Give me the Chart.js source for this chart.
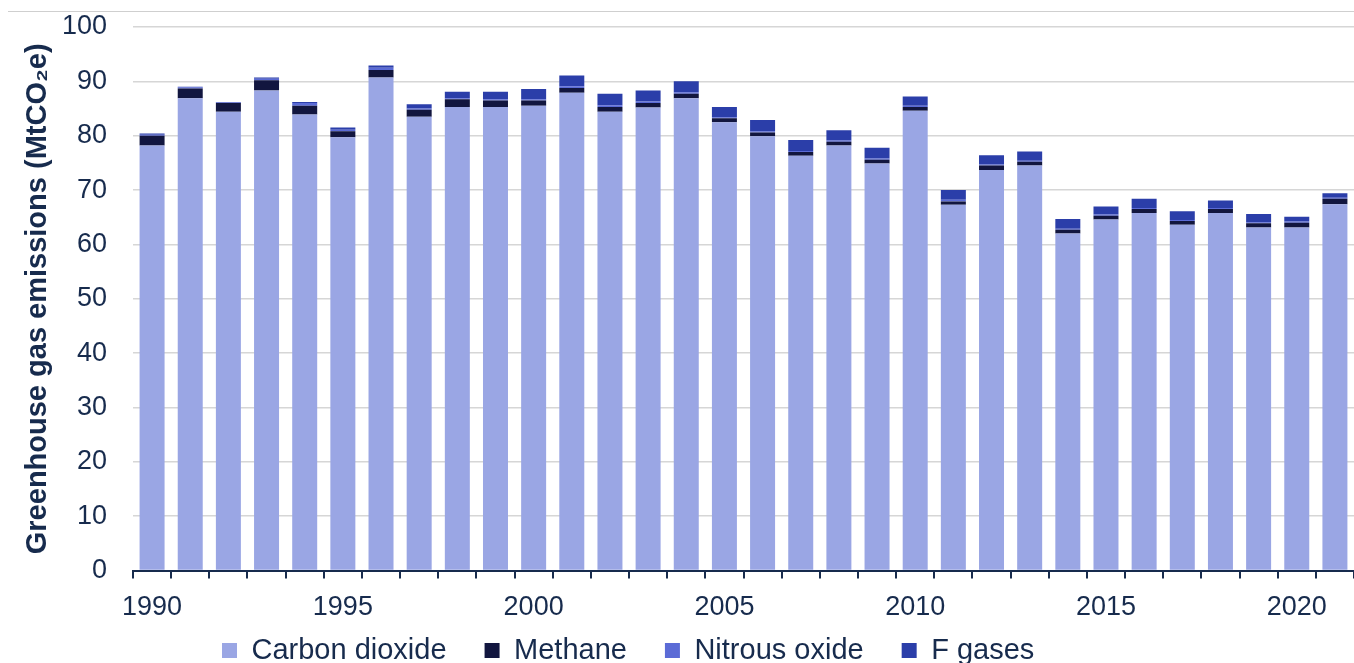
<!DOCTYPE html>
<html>
<head>
<meta charset="utf-8">
<script src="https://cdn.jsdelivr.net/npm/chart.js@4.4.1/dist/chart.umd.min.js"></script>
<style>
  html, body { margin: 0; padding: 0; background: #ffffff; overflow: hidden; }
  #wrap { position: relative; width: 1354px; height: 663px; overflow: hidden; }
  canvas { display: block; }
</style>
</head>
<body>
<div id="wrap"><canvas id="c" width="1354" height="714"></canvas></div>
<script>
const years = [1990,1991,1992,1993,1994,1995,1996,1997,1998,1999,2000,2001,2002,2003,2004,2005,2006,2007,2008,2009,2010,2011,2012,2013,2014,2015,2016,2017,2018,2019,2020,2021];
const carbonDioxide = [78.2,86.9,84.4,88.3,83.9,79.7,90.7,83.5,85.3,85.3,85.5,87.9,84.4,85.2,86.9,82.5,79.9,76.3,78.2,74.9,84.6,67.3,73.7,74.5,62.0,64.6,65.8,63.6,65.8,63.1,63.1,67.4];
const methane = [1.8,1.8,1.6,1.9,1.6,1.1,1.4,1.3,1.4,1.2,1.0,0.9,0.9,0.8,0.8,0.7,0.7,0.7,0.7,0.7,0.7,0.6,0.8,0.7,0.7,0.7,0.7,0.7,0.7,0.8,0.9,1.0];
const nitrousOxide = [0.2,0.2,0.1,0.3,0.5,0.3,0.4,0.2,0.2,0.2,0.2,0.3,0.3,0.3,0.3,0.2,0.2,0.2,0.2,0.2,0.2,0.3,0.2,0.2,0.2,0.2,0.2,0.2,0.2,0.2,0.2,0.2];
const fGases = [0.2,0.1,0.1,0.2,0.2,0.4,0.4,0.8,1.2,1.4,1.9,2.0,2.1,2.0,2.0,1.9,2.1,2.0,1.9,2.0,1.7,1.8,1.7,1.7,1.8,1.5,1.7,1.6,1.4,1.5,0.9,0.8];
const seriesNames = ['Carbon dioxide','Methane','Nitrous oxide','F gases'];
const yTicks = [0,10,20,30,40,50,60,70,80,90,100];
const yTitle = 'Greenhouse gas emissions (MtCO\u2082e)';

const NAVY = '#172b4d';
const FONT = "'Liberation Sans', Arial, sans-serif";

const topRule = {
  id: 'topRule',
  beforeDraw(chart) {
    const ctx = chart.ctx;
    ctx.save();
    ctx.strokeStyle = '#cfcfcf';
    ctx.lineWidth = 1.2;
    ctx.beginPath();
    ctx.moveTo(8, 11.5);
    ctx.lineTo(1354, 11.5);
    ctx.stroke();
    ctx.restore();
  }
};

const legendPlace = {
  id: 'legendPlace',
  afterLayout(chart) {
    const L = chart.legend;
    if (!L) return;
    const pad = L.options.labels.padding;
    const dx = 222 - (L.left + pad);
    L.left += dx; L.right += dx;
    const dy = 636 - (L.top + pad);
    L.top += dy; L.bottom += dy;
  }
};

new Chart(document.getElementById('c'), {
  type: 'bar',
  data: {
    labels: years,
    datasets: [
      { label: seriesNames[0], data: carbonDioxide, backgroundColor: '#9aa6e4' },
      { label: seriesNames[1], data: methane, backgroundColor: '#12163f' },
      { label: seriesNames[2], data: nitrousOxide, backgroundColor: '#5b6bd6' },
      { label: seriesNames[3], data: fGases, backgroundColor: '#2b3ea9' }
    ]
  },
  options: {
    responsive: false,
    animation: false,
    devicePixelRatio: 1,
    layout: { padding: { top: 27, right: 0, left: 0, bottom: 0 } },
    datasets: { bar: { categoryPercentage: 1.0, barPercentage: 0.655, borderWidth: 0 } },
    scales: {
      x: {
        stacked: true,
        offset: true,
        grid: { display: true, drawOnChartArea: false, drawTicks: true, tickLength: 8, color: NAVY, lineWidth: 2, offset: true },
        border: { display: true, color: NAVY, width: 2 },
        ticks: {
          autoSkip: false, maxRotation: 0, minRotation: 0, padding: 13,
          color: NAVY, font: { family: FONT, size: 27 },
          callback(v, i) { const y = years[i]; return (y % 5 === 0) ? String(y) : ''; }
        }
      },
      y: {
        stacked: true,
        min: 0, max: 100,
        afterBuildTicks(scale) { scale.ticks = yTicks.map(v => ({ value: v })); },
        afterFit(scale) { scale.width = 133; scale.paddingTop = 0; scale.paddingBottom = 0; },
        grid: { color: '#d6d6d6', lineWidth: 1.5, drawTicks: false },
        border: { display: false },
        ticks: { padding: 26, color: NAVY, font: { family: FONT, size: 27 } },
        title: {
          display: true, text: yTitle, color: NAVY,
          font: { family: FONT, size: 29, weight: 'bold' },
          padding: { top: 21, bottom: 4 }
        }
      }
    },
    plugins: {
      legend: {
        position: 'bottom', align: 'start',
        labels: { boxWidth: 15, boxHeight: 15, padding: 38, color: NAVY, font: { family: FONT, size: 29 } }
      },
      tooltip: { enabled: false },
      title: { display: false }
    }
  },
  plugins: [topRule, legendPlace]
});
</script>
</body>
</html>
